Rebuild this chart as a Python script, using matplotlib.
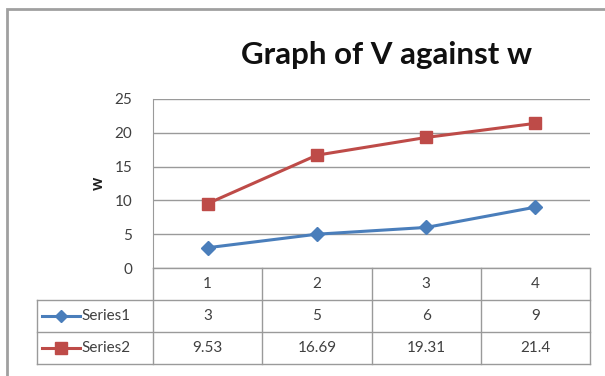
import matplotlib
matplotlib.use("Agg")
import matplotlib.pyplot as plt
from matplotlib.lines import Line2D
from matplotlib.patches import Rectangle

categories = ["1", "2", "3", "4"]
series_names = ["Series1", "Series2"]
series1 = [3, 5, 6, 9]
series2 = [9.53, 16.69, 19.31, 21.4]
series_labels = [["3", "5", "6", "9"], ["9.53", "16.69", "19.31", "21.4"]]
y_ticks = [0, 5, 10, 15, 20, 25]

colors = ["#4A7EBB", "#BE4B48"]
markers = ["D", "s"]
marker_sizes = [7, 9]
grid_color = "#9A9A9A"
text_color = "#404040"

plt.rcParams["font.family"] = ["Lato", "DejaVu Sans"]

W, H = 605, 376
fig = plt.figure(figsize=(W / 100, H / 100), dpi=100)


def fx(px):
    return px / W


def fy(py):
    return 1 - py / H


# outer chart frame
fig.patches.append(Rectangle((fx(7), fy(380)), fx(610), fy(9) - fy(380),
                             transform=fig.transFigure, fill=False,
                             edgecolor="#A0A0A0", linewidth=2.0))

left, right, top, bottom = 153, 590, 99, 268
ax = fig.add_axes([fx(left), fy(bottom), fx(right) - fx(left), fy(top) - fy(bottom)])

x = list(range(len(categories)))
for vals, c, m, ms in zip([series1, series2], colors, markers, marker_sizes):
    ax.plot(x, vals, color=c, linewidth=2.2, marker=m, markersize=ms,
            markerfacecolor=c, markeredgecolor=c, zorder=3)

ax.set_xlim(-0.5, len(categories) - 0.5)
ax.set_ylim(0, 25)
ax.set_yticks(y_ticks)
ax.set_yticklabels([str(t) for t in y_ticks], fontsize=11, color=text_color)
ax.tick_params(axis="y", length=0, pad=15)
ax.set_xticks([])
ax.grid(axis="y", color=grid_color, linewidth=1.0)
for side in ["top", "right", "bottom"]:
    ax.spines[side].set_visible(False)
ax.spines["left"].set_color(grid_color)
ax.set_ylabel("w", fontsize=12, fontweight="bold", rotation=90, color="#202020")
ax.yaxis.set_label_coords(-0.108, 0.5)

fig.text(fx(387), fy(55), "Graph of V against w", ha="center", va="center",
         fontsize=22.5, fontweight="bold", color="#101010")

# data table below the plot
row_edges = [268, 300, 332, 364]
col_edges = [left + (right - left) * i / len(categories) for i in range(len(categories) + 1)]
label_left = 37

def hline(y, x0, x1):
    fig.lines.append(Line2D([fx(x0), fx(x1)], [fy(y), fy(y)], transform=fig.transFigure,
                            color=grid_color, linewidth=1.0))

def vline(xp, y0, y1):
    fig.lines.append(Line2D([fx(xp), fx(xp)], [fy(y0), fy(y1)], transform=fig.transFigure,
                            color=grid_color, linewidth=1.0))

hline(row_edges[0], left, right)
for yv in row_edges[1:]:
    hline(yv, label_left, right)
for xv in col_edges:
    vline(xv, row_edges[0], row_edges[-1])
vline(label_left, row_edges[1], row_edges[-1])

for i, cat in enumerate(categories):
    cx = (col_edges[i] + col_edges[i + 1]) / 2
    fig.text(fx(cx), fy((row_edges[0] + row_edges[1]) / 2), cat, ha="center", va="center",
             fontsize=11, color=text_color)

for r, (name, labels, c, m, ms) in enumerate(zip(series_names, series_labels, colors,
                                                  markers, marker_sizes)):
    ymid = (row_edges[r + 1] + row_edges[r + 2]) / 2
    fig.lines.append(Line2D([fx(42), fx(80)], [fy(ymid), fy(ymid)], transform=fig.transFigure,
                            color=c, linewidth=2.2))
    fig.lines.append(Line2D([fx(61)], [fy(ymid)], transform=fig.transFigure, color=c,
                            marker=m, markersize=ms - 1, markerfacecolor=c, markeredgecolor=c))
    fig.text(fx(81), fy(ymid), name, ha="left", va="center", fontsize=11, color=text_color)
    for i, lab in enumerate(labels):
        cx = (col_edges[i] + col_edges[i + 1]) / 2
        fig.text(fx(cx), fy(ymid), lab, ha="center", va="center", fontsize=11, color=text_color)

fig.savefig("out.png", dpi=100, facecolor="white")
